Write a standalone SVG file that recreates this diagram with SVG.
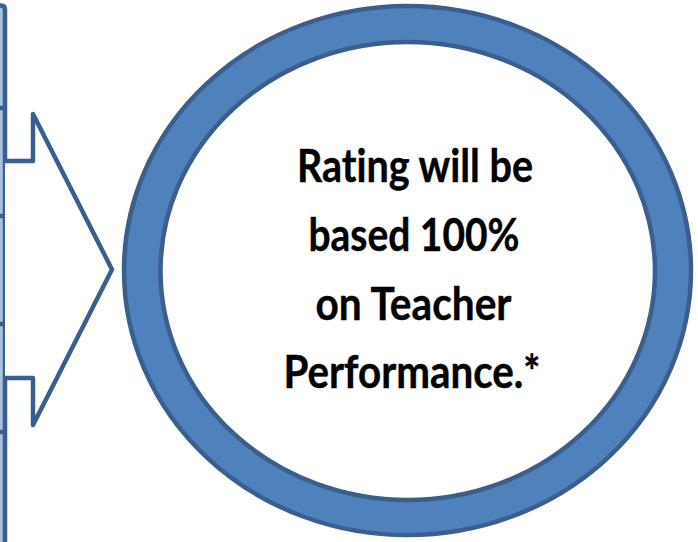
<svg xmlns="http://www.w3.org/2000/svg" width="698" height="542" viewBox="0 0 698 542">
  <style>
    .edge { stroke: #3a5f8e; stroke-width: 4.5; stroke-linejoin: round; }
    .label { font-family: Lato, "Liberation Sans", sans-serif; font-weight: bold; font-size: 45px; fill: #000; stroke: #000; stroke-width: 0.4; text-anchor: middle; font-variant-ligatures: none; }
  </style>
  <rect width="698" height="542" fill="#ffffff"/>

  <!-- stacked boxes cut off at the left edge -->
  <g id="stack">
    <path class="edge" d="M -20 5.5 H 1 Q 5 5.5 5 9.5 V 560 H -20 Z" fill="#a9c0df"/>
    <path class="edge" d="M -20 108 H 5 M -20 216 H 5 M -20 324 H 5 M -20 432 H 5" fill="none"/>
  </g>

  <!-- block arrow pointing to the ring -->
  <g id="connectors">
    <path class="edge" d="M 5 161 H 33 V 114 L 112 269.5 L 33 425 V 378 H 5" fill="#ffffff"/>
  </g>

  <!-- ring with the statement -->
  <g id="ring">
    <path class="edge" fill="#4f81bd" fill-rule="evenodd"
      d="M 124 270.5 A 283.5 264.5 0 1 0 691 270.5 A 283.5 264.5 0 1 0 124 270.5 Z
         M 160.5 271 A 247.25 229 0 1 0 655 271 A 247.25 229 0 1 0 160.5 271 Z"/>
    <text class="label" x="415" y="182" textLength="236" lengthAdjust="spacingAndGlyphs">Rating will be</text>
    <text class="label" x="414" y="251" textLength="211" lengthAdjust="spacingAndGlyphs">based 100%</text>
    <text class="label" x="413.5" y="320" textLength="196" lengthAdjust="spacingAndGlyphs">on Teacher</text>
    <text class="label" x="412" y="388" textLength="257" lengthAdjust="spacingAndGlyphs">Performance.*</text>
  </g>
</svg>
